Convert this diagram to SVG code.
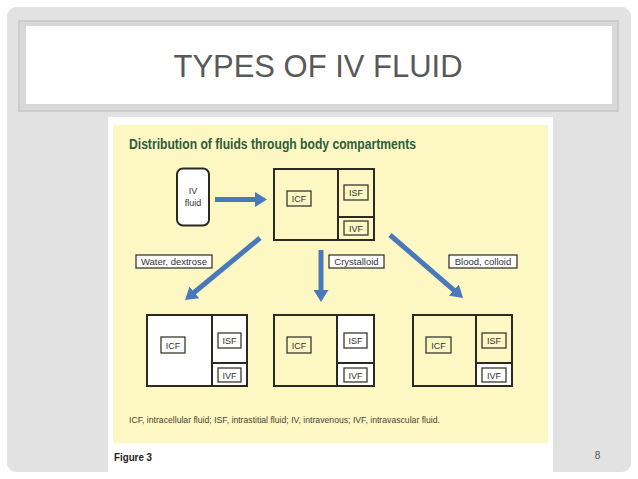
<svg xmlns="http://www.w3.org/2000/svg" width="638" height="479" viewBox="0 0 638 479">
<style>
.box{stroke:#2b2a22;stroke-width:2;}
.lbl{fill:#fff;stroke:#3a3a32;stroke-width:1.3;}
.lblY{fill:#fcf7c3;stroke:#3a3a32;stroke-width:1.3;}
.t{font-family:"Liberation Sans",Arial,sans-serif;font-size:9px;fill:#333;text-anchor:middle;}
.tl{font-family:"Liberation Sans",Arial,sans-serif;font-size:9.5px;fill:#333;text-anchor:middle;}
.arr{stroke:#4a79bb;stroke-width:5;fill:none;marker-end:url(#ah);}
</style>
<defs>
<marker id="ah" markerUnits="userSpaceOnUse" markerWidth="12" markerHeight="15" viewBox="0 0 12 15" refX="1" refY="7.5" orient="auto">
<path d="M0,0 L12,7.5 L0,15 z" fill="#4a79bb"/>
</marker>
</defs>
<rect x="0" y="0" width="638" height="479" fill="#ffffff"/>
<rect x="7" y="7" width="624" height="465" rx="9" fill="#e2e2e2"/>
<rect x="19" y="21" width="599" height="90" fill="#d8d8d8" stroke="#c6c6c6" stroke-width="1.5"/>
<rect x="26" y="26" width="586" height="78" fill="#ffffff"/>
<text x="318" y="77" font-family="Liberation Sans,Arial,sans-serif" font-size="31" fill="#595959" text-anchor="middle" textLength="289" lengthAdjust="spacingAndGlyphs">TYPES OF IV FLUID</text>
<rect x="108" y="117" width="445" height="355" fill="#ffffff"/>
<rect x="113" y="125" width="435" height="318" fill="#fcf7c3"/>
<text x="129" y="148.5" font-family="Liberation Sans,Arial,sans-serif" font-size="14" font-weight="bold" fill="#2f5c3c" textLength="287" lengthAdjust="spacingAndGlyphs">Distribution of fluids through body compartments</text>

<g id="iv-fluid">
<rect x="177" y="168.5" width="32" height="57" rx="6" fill="#fff" class="box"/>
<text class="t" x="193" y="194">IV</text>
<text class="t" x="193" y="206">fluid</text>
</g>

<g id="top-compartments">
<rect x="274" y="169" width="100" height="71" fill="#fcf7c3" class="box"/>
<line x1="338" y1="169" x2="338" y2="240" class="box"/>
<line x1="338" y1="217" x2="374" y2="217" class="box"/>
<rect class="lblY" x="287" y="191" width="24" height="15"/>
<text class="t" x="299" y="202">ICF</text>
<rect class="lblY" x="344" y="185" width="24" height="15"/>
<text class="t" x="356" y="196">ISF</text>
<rect class="lblY" x="344" y="221" width="24" height="14"/>
<text class="t" x="356" y="231.5">IVF</text>
</g>

<g id="label-water">
<rect class="lbl" x="136" y="255" width="76" height="13"/>
<text class="tl" x="174" y="265">Water, dextrose</text>
</g>
<g id="label-crystalloid">
<rect class="lbl" x="329" y="255" width="55" height="13"/>
<text class="tl" x="356.5" y="265">Crystalloid</text>
</g>
<g id="label-blood">
<rect class="lbl" x="449" y="255" width="68" height="13"/>
<text class="tl" x="483" y="265">Blood, colloid</text>
</g>

<g id="result-water">
<rect x="147" y="315" width="100" height="71" fill="#fff" class="box"/>
<line x1="212" y1="315" x2="212" y2="386" class="box"/>
<line x1="212" y1="363" x2="247" y2="363" class="box"/>
<rect class="lbl" x="161" y="337" width="24" height="16"/>
<text class="t" x="173" y="348.5">ICF</text>
<rect class="lbl" x="218" y="333" width="23" height="15"/>
<text class="t" x="229.5" y="344">ISF</text>
<rect class="lbl" x="218" y="368" width="23" height="14"/>
<text class="t" x="229.5" y="378.5">IVF</text>
</g>

<g id="result-crystalloid">
<rect x="274" y="315" width="100" height="71" fill="#fcf7c3" class="box"/>
<rect x="337" y="315" width="37" height="71" fill="#fff"/>
<rect x="274" y="315" width="100" height="71" fill="none" class="box"/>
<line x1="337" y1="315" x2="337" y2="386" class="box"/>
<line x1="337" y1="363" x2="374" y2="363" class="box"/>
<rect class="lblY" x="287" y="337" width="24" height="16"/>
<text class="t" x="299" y="348.5">ICF</text>
<rect class="lbl" x="344" y="333" width="23" height="15"/>
<text class="t" x="355.5" y="344">ISF</text>
<rect class="lbl" x="344" y="368" width="23" height="14"/>
<text class="t" x="355.5" y="378.5">IVF</text>
</g>

<g id="result-blood">
<rect x="413" y="315" width="99" height="71" fill="#fcf7c3" class="box"/>
<rect x="476" y="363" width="36" height="23" fill="#fff"/>
<rect x="413" y="315" width="99" height="71" fill="none" class="box"/>
<line x1="476" y1="315" x2="476" y2="386" class="box"/>
<line x1="476" y1="363" x2="512" y2="363" class="box"/>
<rect class="lblY" x="426" y="337" width="25" height="16"/>
<text class="t" x="438.5" y="348.5">ICF</text>
<rect class="lblY" x="482" y="333" width="24" height="15"/>
<text class="t" x="494" y="344">ISF</text>
<rect class="lbl" x="482" y="368" width="24" height="14"/>
<text class="t" x="494" y="378.5">IVF</text>
</g>

<g id="connectors">
<line class="arr" x1="215" y1="199.5" x2="256" y2="199.5"/>
<line class="arr" x1="260" y1="238" x2="193.5" y2="293"/>
<line class="arr" x1="321" y1="250" x2="321" y2="291"/>
<line class="arr" x1="390" y1="235" x2="454.7" y2="290.8"/>
</g>

<text x="129" y="423" font-family="Liberation Sans,Arial,sans-serif" font-size="9" fill="#4d4431" textLength="311" lengthAdjust="spacingAndGlyphs">ICF, intracellular fluid; ISF, intrastitial fluid; IV, intravenous; IVF, intravascular fluid.</text>
<text x="114" y="461" font-family="Liberation Sans,Arial,sans-serif" font-size="11" font-weight="bold" fill="#222" textLength="38" lengthAdjust="spacingAndGlyphs">Figure 3</text>
<text x="597.5" y="459" font-family="Liberation Sans,Arial,sans-serif" font-size="10" fill="#555" text-anchor="middle">8</text>
</svg>
